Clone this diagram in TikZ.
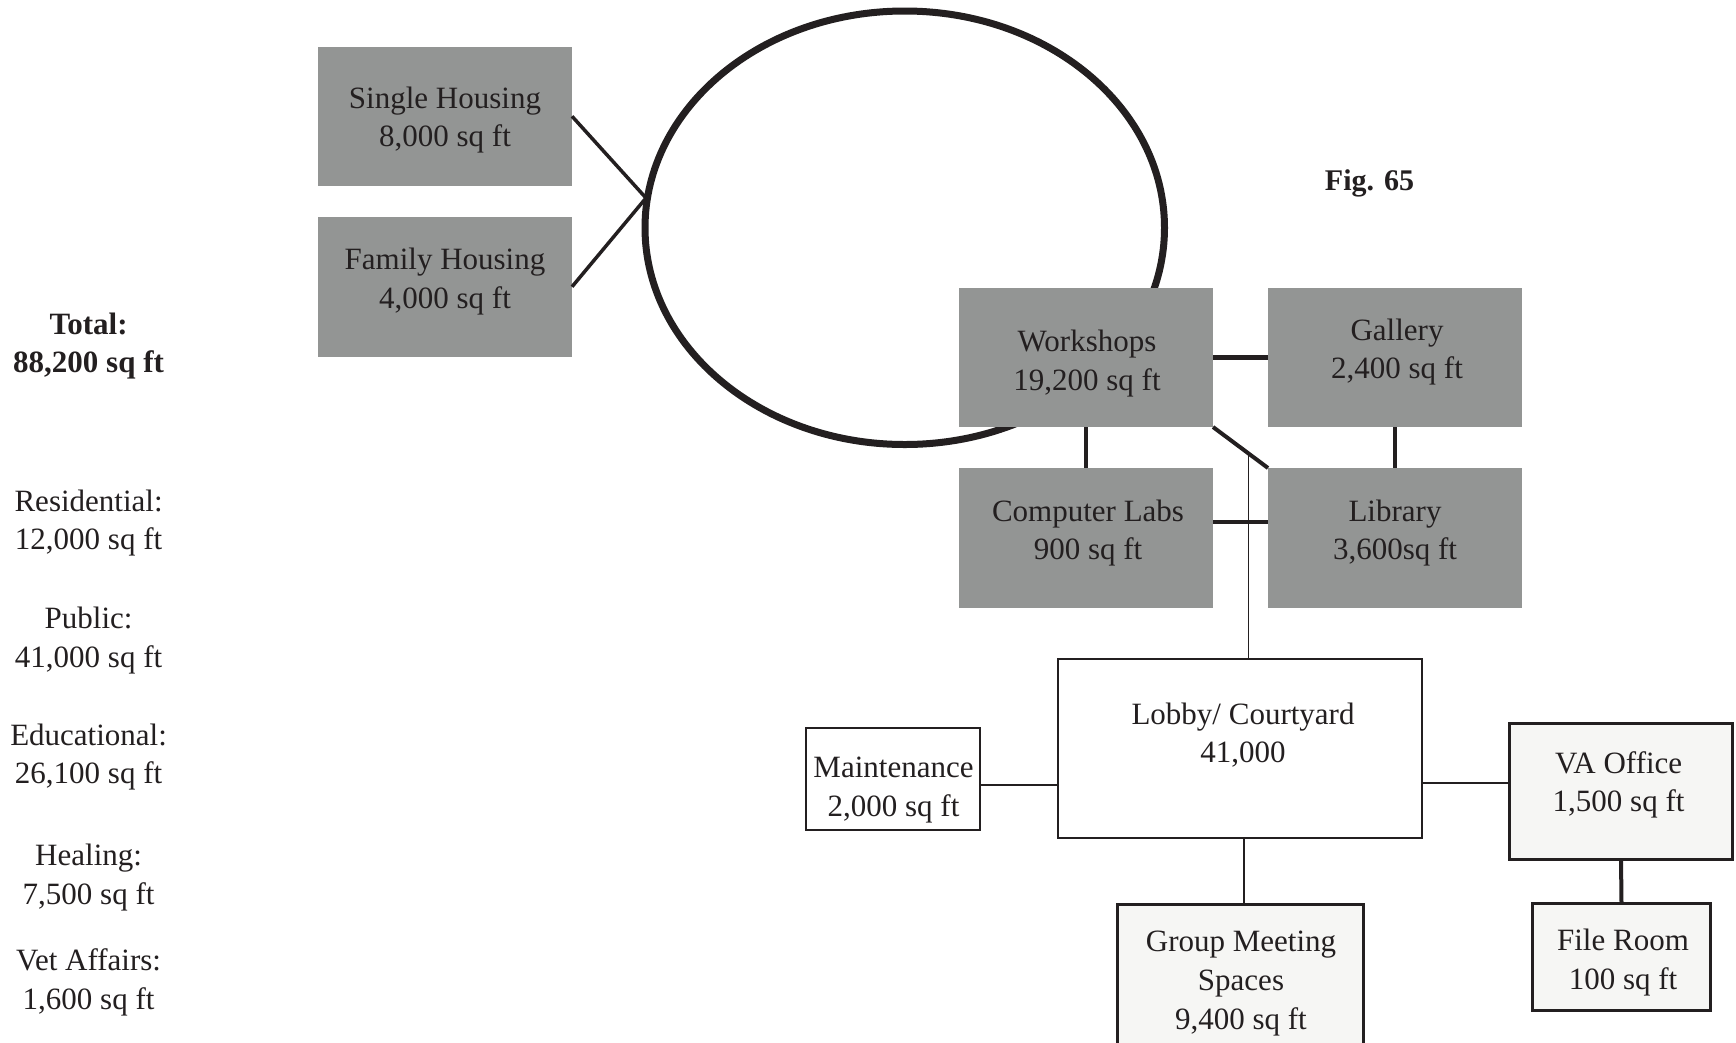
\documentclass[tikz,border=0pt]{standalone}
\usepackage{fontspec}
\setmainfont{Liberation Serif}
\usetikzlibrary{shapes.geometric,calc}
\definecolor{ink}{HTML}{231F20}
\definecolor{boxgray}{HTML}{939594}
\definecolor{paleface}{HTML}{F6F6F4}
\begin{document}
\begin{tikzpicture}[x=1pt,y=-1pt,
  every node/.style={text=ink},
  graybox/.style={rectangle, fill=boxgray, draw=none, inner sep=0pt, outer sep=0pt},
  whitebox/.style={rectangle, fill=white, draw=ink, line width=2pt, inner sep=0pt, outer sep=0pt},
  palebox/.style={rectangle, fill=paleface, draw=ink, line width=3pt, inner sep=0pt, outer sep=0pt},
  lbl/.style={align=center, font=\fontsize{31}{38.8}\selectfont, inner sep=0pt, yshift=-3.3pt},
  sidelbl/.style={align=center, font=\fontsize{31}{38.5}\selectfont, inner sep=0pt, yshift=-3.3pt},
  heavylink/.style={draw=ink, line width=4.5pt},
  thinlink/.style={draw=ink, line width=1.2pt}]
\useasboundingbox (0,0) rectangle (1736,1042);
\fill[white] (0,0) rectangle (1736,1042);

% central ellipse
\node[ellipse, draw=ink, line width=7pt, minimum width=519.5pt, minimum height=433.5pt, inner sep=0pt] (hub) at (904.75,227.75) {};
\coordinate (meet) at (646,198);

% residential boxes
\node[graybox, minimum width=254pt, minimum height=139.5pt] (sh) at (445,116.25) {};
\node[graybox, minimum width=254pt, minimum height=139.5pt] (fh) at (445,286.75) {};
\node[lbl] (sht) at (445,116.8) {Single Housing\\8,000 sq ft};
\node[lbl] (fht) at (445,278) {Family Housing\\4,000 sq ft};
\draw[draw=ink, line width=3.5pt] (sh.east) -- (meet) -- (fh.east);

% educational cluster
\node[graybox, minimum width=254pt, minimum height=139pt] (ws) at (1086,357.5) {};
\node[graybox, minimum width=254pt, minimum height=139pt] (gal) at (1395,357.5) {};
\node[graybox, minimum width=254pt, minimum height=140pt] (cl) at (1086,538) {};
\node[graybox, minimum width=254pt, minimum height=140pt] (lib) at (1395,538) {};
\node[lbl] (wst) at (1087,360.4) {Workshops\\19,200 sq ft};
\node[lbl] (galt) at (1397,348.8) {Gallery\\2,400 sq ft};
\node[lbl] (clt) at (1088,529.7) {Computer Labs\\900 sq ft};
\node[lbl] (libt) at (1395,529.7) {Library\\3,600sq ft};

\draw[heavylink] (ws.east) -- (gal.west);
\draw[heavylink] (ws.south) -- (cl.north);
\draw[heavylink] (gal.south) -- (lib.north);
\draw[heavylink] ([yshift=16pt]cl.east) -- ([yshift=16pt]lib.west);
\draw[draw=ink, line width=4pt] (ws.south east) -- (lib.north west);
\coordinate (dj) at ($(ws.south east)!0.644!(lib.north west)$);

% public / healing / vet affairs
\node[whitebox, minimum width=364pt, minimum height=179pt] (lobby) at (1240,748.5) {};
\node[lbl] (lobbyt) at (1243,731.8) {Lobby/ Courtyard\\41,000};
\node[whitebox, minimum width=174pt, minimum height=102pt] (maint) at (893,779) {};
\node[lbl] (maintt) at (893.5,787) {Maintenance\\2,000 sq ft};
\node[palebox, minimum width=223pt, minimum height=136pt] (va) at (1621,791.5) {};
\node[lbl] (vat) at (1618.6,781.6) {VA Office\\1,500 sq ft};
\node[palebox, minimum width=178pt, minimum height=107pt] (file) at (1621.5,957) {};
\node[lbl] (filet) at (1623,959.3) {File Room\\100 sq ft};
\node[palebox, minimum width=246pt, minimum height=141.5pt] (grp) at (1240.5,975.25) {};
\node[lbl] (grpt) at (1241,980) {Group Meeting\\Spaces\\9,400 sq ft};

\draw[thinlink, line width=1pt] (dj) -- (dj |- lobby.north);
\draw[draw=ink, line width=2pt] ([yshift=-6pt]maint.east) -- ([yshift=-6pt]maint.east -| lobby.west);
\draw[draw=ink, line width=1.5pt] ([yshift=8.5pt]va.west) -- ([yshift=8.5pt]va.west -| lobby.east);
\draw[thinlink] ([xshift=4pt]lobby.south) -- ([xshift=4pt]lobby.south |- grp.north);
\draw[draw=ink, line width=4pt] (va.south) -- (file.north);

% figure caption
\node[font=\bfseries\fontsize{30}{36}\selectfont, inner sep=0pt, yshift=-3.3pt] (fig) at (1369.5,180.5) {Fig. 65};

% totals column
\node[sidelbl, font=\bfseries\fontsize{31}{38.5}\selectfont] (total) at (88.6,342.5) {Total:\\88,200 sq ft};
\node[sidelbl] (resid) at (88.6,519.5) {Residential:\\12,000 sq ft};
\node[sidelbl] (public) at (88.6,637) {Public:\\41,000 sq ft};
\node[sidelbl] (educ) at (88.6,753.5) {Educational:\\26,100 sq ft};
\node[sidelbl] (heal) at (88.6,874) {Healing:\\7,500 sq ft};
\node[sidelbl] (vet) at (88.6,979.3) {Vet Affairs:\\1,600 sq ft};
\end{tikzpicture}
\end{document}
